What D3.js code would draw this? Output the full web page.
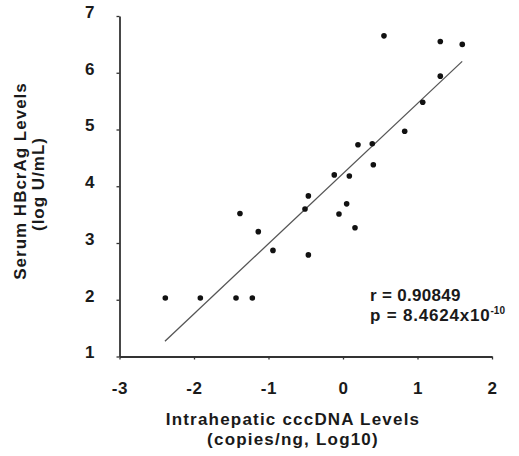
<!DOCTYPE html>
<html>
<head>
<meta charset="utf-8">
<script src="https://cdn.jsdelivr.net/npm/d3@7"></script>
<style>
	body { margin: 0; background: #fff; }
	svg text { font-family: "Liberation Sans", Arial, sans-serif; font-weight: bold; fill: #1a1a1a; }
</style>
</head>
<body>
<div id="chart"></div>
<script>
// intrahepatic cccDNA (log10 copies/ng) vs serum HBcrAg (log U/mL)
var cccDNA = [-2.385, -1.915, -1.436, -1.217, -1.383, -1.137, -0.940, -0.465, -0.510, -0.465,
	-0.117, 0.085, 0.049, -0.054, 0.161, 0.201, 0.393, 0.407, 0.828, 1.07, 1.306, 1.306, 1.601, 0.550];
var hbcrag = [2.03, 2.03, 2.03, 2.03, 3.52, 3.20, 2.87, 3.83, 3.60, 2.79,
	4.20, 4.18, 3.69, 3.51, 3.27, 4.73, 4.75, 4.38, 4.97, 5.48, 5.94, 6.55, 6.50, 6.65];

// regression line end points
var fitX = [-2.39, 1.60];
var fitY = [1.27, 6.20];

var xTicks = [-3, -2, -1, 0, 1, 2];
var yTicks = [1, 2, 3, 4, 5, 6, 7];

var width = 519;
var height = 456;
var margin = {top: 16, right: 27, bottom: 99.5, left: 119.5};

var svg = d3.select("#chart").append("svg")
	.attr("width", width)
	.attr("height", height);

var x = d3.scaleLinear()
	.domain([-3, 2])
	.range([margin.left, width - margin.right]);
var y = d3.scaleLinear()
	.domain([1, 7])
	.range([height - margin.bottom, margin.top]);

// plain hyphen for negatives, like the original
var fmt = function(d) { return String(d); };

var xAxis = d3.axisBottom(x)
	.tickValues(xTicks)
	.tickSizeInner(3)
	.tickSizeOuter(0)
	.tickPadding(22.5)
	.tickFormat(fmt);
var yAxis = d3.axisLeft(y)
	.tickValues(yTicks)
	.tickSizeInner(3)
	.tickSizeOuter(0)
	.tickPadding(21.5)
	.tickFormat(fmt);

// regression line
svg.append("line")
	.attr("x1", x(fitX[0]))
	.attr("y1", y(fitY[0]))
	.attr("x2", x(fitX[1]))
	.attr("y2", y(fitY[1]))
	.style("stroke", "#555")
	.style("stroke-width", 1.3);

var pts = cccDNA.map(function(d, i) { return {x: d, y: hbcrag[i]}; });
svg.selectAll("circle.pt")
	.data(pts)
	.enter().append("circle")
	.attr("class", "pt")
	.attr("cx", function(d) { return x(d.x); })
	.attr("cy", function(d) { return y(d.y); })
	.attr("r", 2.8)
	.style("fill", "#111");

var gx = svg.append("g")
	.attr("transform", "translate(0," + y(1) + ")")
	.call(xAxis);
var gy = svg.append("g")
	.attr("transform", "translate(" + x(-3) + ",0)")
	.call(yAxis);

[gx, gy].forEach(function(g) {
	g.select(".domain").style("stroke", "#333").style("stroke-width", 1.8);
	g.selectAll(".tick line").style("stroke", "#333").style("stroke-width", 1.3);
	g.selectAll(".tick text")
		.style("font-size", "17px")
		.style("letter-spacing", "0.6px")
		.style("fill", "#1a1a1a")
		.attr("font-family", null);
});
gy.selectAll(".tick text").attr("transform", "translate(0,-4)");

// axis titles
svg.append("text")
	.attr("x", 293).attr("y", 425)
	.style("text-anchor", "middle")
	.style("font-size", "17px")
	.style("letter-spacing", "1.2px")
	.text("Intrahepatic cccDNA Levels");
svg.append("text")
	.attr("x", 293).attr("y", 445)
	.style("text-anchor", "middle")
	.style("font-size", "17px")
	.style("letter-spacing", "1.2px")
	.text("(copies/ng, Log10)");

svg.append("text")
	.attr("transform", "translate(26,181) rotate(-90)")
	.style("text-anchor", "middle")
	.style("font-size", "17px")
	.style("letter-spacing", "1px")
	.text("Serum HBcrAg Levels");
svg.append("text")
	.attr("transform", "translate(44,184) rotate(-90)")
	.style("text-anchor", "middle")
	.style("font-size", "17px")
	.style("letter-spacing", "1px")
	.text("(log U/mL)");

// stats
svg.append("text")
	.attr("x", 370).attr("y", 301)
	.style("font-size", "17px")
	.style("letter-spacing", "0.3px")
	.text("r = 0.90849");
var p = svg.append("text")
	.attr("x", 370).attr("y", 321)
	.style("font-size", "17px")
	.style("letter-spacing", "0.8px");
p.append("tspan").text("p = 8.4624x10");
p.append("tspan")
	.attr("dy", -7)
	.style("font-size", "10px")
	.style("letter-spacing", "0px")
	.text("-10");
</script>
</body>
</html>
